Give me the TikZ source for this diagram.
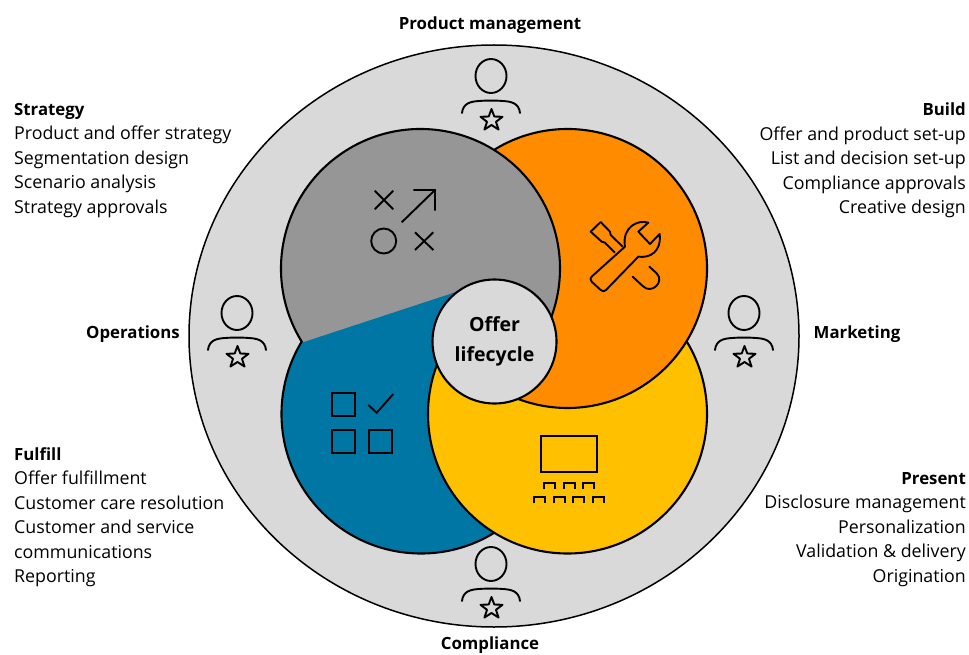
\documentclass[tikz,border=0pt]{standalone}
\usepackage{fontspec}
\setmainfont{Open Sans}
\definecolor{ringgray}{HTML}{D9D9D9}
\definecolor{stratgray}{HTML}{969696}
\definecolor{buildor}{HTML}{FF8C00}
\definecolor{presy}{HTML}{FFC000}
\definecolor{fulb}{HTML}{0076A5}
\newcommand{\hdtxt}[1]{{\fontsize{16.8}{24.5}\selectfont\bfseries #1}}
\tikzset{
  ol/.style={draw=black,line width=2.1pt},
  ic/.style={draw=black,line width=1.9pt,line join=miter},
  txt/.style={inner sep=0pt,font=\fontsize{17.8}{24.5}\selectfont},
  lft/.style={txt,align=left,anchor=north west},
  rgt/.style={txt,align=right,anchor=north east},
  hd/.style={txt,font=\fontsize{16.8}{24.5}\selectfont\bfseries,anchor=center},
  person/.pic={
    \draw[ic] (0,-1) ellipse[x radius=15.5,y radius=17];
    \draw[ic,line cap=round] (-29,36) .. controls (-28,26) and (-20,24.5) .. (-12,24) .. controls (-4,23.4) and (4,23.4) .. (12,24) .. controls (20,24.5) and (28,26) .. (29,36);
    \draw[ic,line join=round] (0.5,32) -- (3.3,39.5) -- (11.5,39.8) -- (5,44.8) -- (7.6,52.6) -- (0.5,48) -- (-6.6,52.6) -- (-4,44.8) -- (-10.5,39.8) -- (-2.3,39.5) -- cycle;
  }
}
\begin{document}
\begin{tikzpicture}[x=1pt,y=-1pt]
\useasboundingbox (0,0) rectangle (969,655);
\fill[white] (0,0) rectangle (969,655);
% outer ring
\draw[fill=ringgray,draw=black,line width=1.5pt] (494,336) ellipse[x radius=305,y radius=291];
% blue
\draw[ol,fill=fulb] (421,414) circle[radius=139.5];
% yellow
\draw[ol,fill=presy] (567.5,414) circle[radius=139.5];
% orange
\fill[buildor] (567.5,268.5) ++(235:139.5) arc[start angle=235,end angle=475,radius=139.5] -- (495,342) -- cycle;
\draw[ol] (567.5,268.5) ++(235:139.5) arc[start angle=235,end angle=475,radius=139.5];
% gray
\fill[stratgray] (420.5,268.5) ++(148:139.5) arc[start angle=148,end angle=383,radius=139.5] -- (495,335) -- (480,284) -- cycle;
\draw[ol] (420.5,268.5) ++(148:139.5) arc[start angle=148,end angle=383,radius=139.5];
% centre
\node[circle,draw=black,line width=2.1pt,fill=ringgray,minimum size=124pt,inner sep=0pt,align=center,font=\fontsize{19.5}{30}\selectfont\bfseries] (hub) at (494.5,341.5) {Offer\\lifecycle};
% persons
\pic at (491,77) {person};
\pic at (491,565) {person};
\pic at (237,314) {person};
\pic at (744,314) {person};
% strategy icon
\draw[ic] (374.7,190.7) -- (393.3,209.3) (393.3,190.7) -- (374.7,209.3);
\draw[ic] (415,232.3) -- (433.3,250) (433.3,232.3) -- (415,250);
\draw[ic] (383.7,241) circle[radius=12.5];
\draw[ic] (401.7,222.3) -- (435,190) (413.3,190) -- (435,190) -- (435,210.7);
% fulfill icon
\draw[ic] (332.3,393.3) rectangle (355.3,416);
\draw[ic] (332.3,430) rectangle (355.3,453.3);
\draw[ic] (369.3,430) rectangle (392.3,453.3);
\draw[ic] (368.3,405) -- (376.7,412.7) -- (393.3,394);
% present icon
\draw[ic] (541,435.7) rectangle (597.3,471.7);
\foreach \a in {544,563.7,583.3} \draw[ic] (\a,488.7) -- (\a,482.7) -- ++(11,0) -- ++(0,6);
\foreach \a in {534,553.7,573.3,593} \draw[ic] (\a,503.3) -- (\a,496.7) -- ++(11,0) -- ++(0,6.6);
% build icon
\begin{scope}[shift={(560,190)},scale=0.3333]
\draw[ic,line join=round] (188,170) -- (152,135) -- (150,125) -- (122,96) -- (92,125) -- (125,155) -- (135,158) -- (165,188);
\draw[ic,line join=round] (265,98) .. controls (235,88) and (185,110) .. (195,170) -- (97,258) .. controls (90,265) and (90,270) .. (95,275) -- (122,300) .. controls (128,305) and (133,305) .. (138,300) -- (235,200) .. controls (270,205) and (305,185) .. (299,132) -- (270,162) -- (235,125) -- cycle;
\draw[ic,line cap=round] (268,230) -- (290,250) .. controls (315,275) and (275,315) .. (248,288) -- (218,260);
\end{scope}
% labels
\node[hd] (pm) at (490,25) {Product management};
\node[hd] (comp) at (490,645) {Compliance};
\node[hd] (ops) at (133,334) {Operations};
\node[hd] (mkt) at (857,334) {Marketing};
\node[lft] (strategy) at (14,103) {\hdtxt{Strategy}\\Product and offer strategy\\Segmentation design\\Scenario analysis\\Strategy approvals};
\node[lft] (fulfill) at (14,447) {\hdtxt{Fulfill}\\Offer fulfillment\\Customer care resolution\\Customer and service\\communications\\Reporting};
\node[rgt] (build) at (966,103) {\hdtxt{Build}\\Offer and product set-up\\List and decision set-up\\Compliance approvals\\Creative design};
\node[rgt] (present) at (966,472) {\hdtxt{Present}\\Disclosure management\\Personalization\\Validation \& delivery\\Origination};
\end{tikzpicture}
\end{document}
